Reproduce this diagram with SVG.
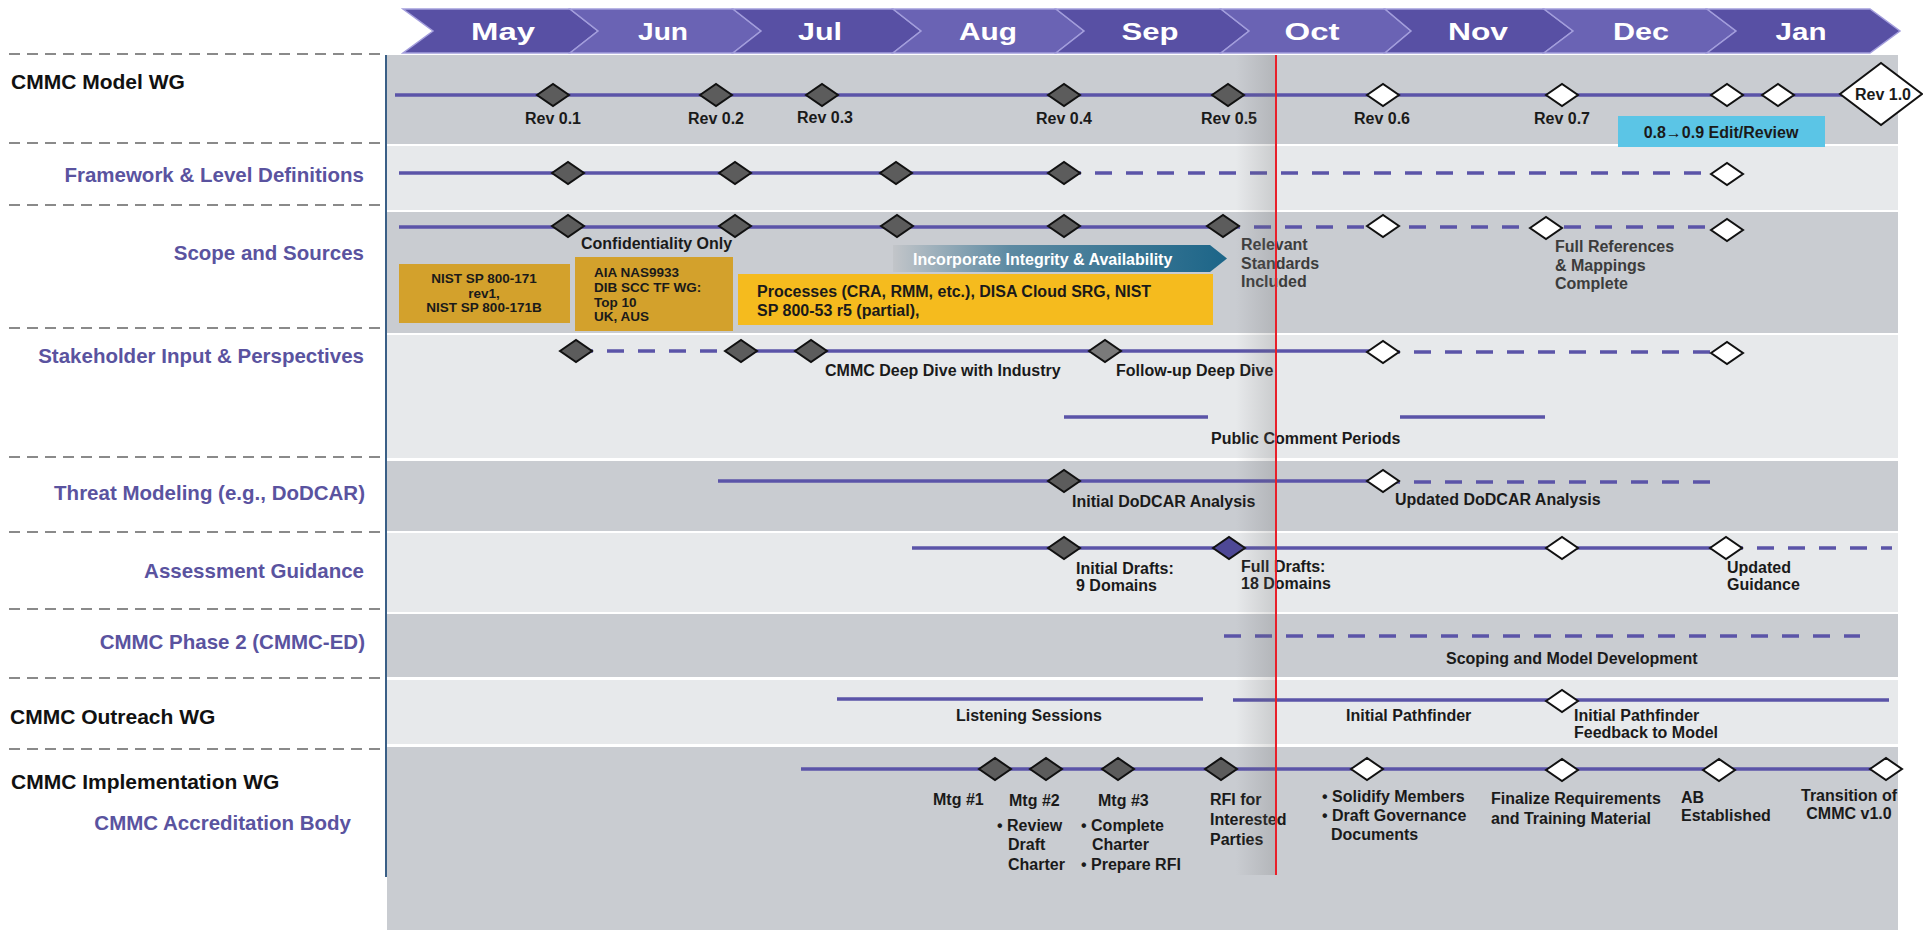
<svg xmlns="http://www.w3.org/2000/svg" xmlns:xlink="http://www.w3.org/1999/xlink" width="1923" height="930" viewBox="0 0 1923 930">
<defs>
<style>
.dk{fill:#c9ccd1}.lt{fill:#e7e9eb}
.sep{stroke:#8a8a8a;stroke-width:2;stroke-dasharray:11 7;fill:none}
.tl{stroke:#5b54a8;stroke-width:3.5;fill:none}
.td{stroke:#5b54a8;stroke-width:3.5;fill:none;stroke-dasharray:17 14}
.md{fill:#5c5c5c;stroke:#111;stroke-width:2}
.mw{fill:#fff;stroke:#111;stroke-width:2}
.mg{fill:#7a7a7a;stroke:#111;stroke-width:2}
.mp{fill:#4e4896;stroke:#111;stroke-width:2}
.chA{fill:#5850a4;stroke:#a39edc;stroke-width:1.5}
.chB{fill:#6a63b4;stroke:#a39edc;stroke-width:1.5}
.mon{font-family:"Liberation Sans",Arial,sans-serif;font-weight:bold;font-size:23px;fill:#fff;text-anchor:middle}
.lb{font-family:"Liberation Sans",Arial,sans-serif;font-weight:bold;font-size:21px;fill:#111}
.lp{font-family:"Liberation Sans",Arial,sans-serif;font-weight:bold;font-size:20.5px;fill:#5a539f;text-anchor:end}
.t{font-family:"Liberation Sans",Arial,sans-serif;font-weight:bold;font-size:16px;fill:#1a1a1a}
.tc{text-anchor:middle}
.tg{fill:#3c3c3c}
.tw{fill:#fff}
.bx{font-family:"Liberation Sans",Arial,sans-serif;font-weight:bold;font-size:13.5px;fill:#1a1a1a}
</style>
<path id="dm" d="M-16,0 L0,-11 L16,0 L0,11Z"/>
<linearGradient id="gInt" x1="0" x2="1" y1="0" y2="0">
<stop offset="0" stop-color="#c2c5c9"/>
<stop offset="0.35" stop-color="#5d8aa2"/>
<stop offset="1" stop-color="#1c6588"/>
</linearGradient>
<linearGradient id="gSh" x1="0" x2="1" y1="0" y2="0">
<stop offset="0" stop-color="#6e6e6e" stop-opacity="0"/>
<stop offset="1" stop-color="#6e6e6e" stop-opacity="0.24"/>
</linearGradient>
</defs>

<rect width="1923" height="930" fill="#fff"/>

<g id="bands">
<rect class="dk" x="387" y="55" width="1511" height="89"/>
<rect class="lt" x="387" y="146" width="1511" height="64"/>
<rect class="dk" x="387" y="212" width="1511" height="121"/>
<rect class="lt" x="387" y="335" width="1511" height="123"/>
<rect class="dk" x="387" y="461" width="1511" height="70"/>
<rect class="lt" x="387" y="533" width="1511" height="79"/>
<rect class="dk" x="387" y="614" width="1511" height="63"/>
<rect class="lt" x="387" y="680" width="1511" height="64"/>
<rect class="dk" x="387" y="747" width="1511" height="183"/>
</g>

<g id="header">
<polygon class="chA" points="403,9 570,9 598,31 570,53 403,53 433,31"/>
<polygon class="chB" points="570,9 733,9 761,31 733,53 570,53 598,31"/>
<polygon class="chA" points="733,9 893,9 921,31 893,53 733,53 761,31"/>
<polygon class="chB" points="893,9 1056,9 1084,31 1056,53 893,53 921,31"/>
<polygon class="chA" points="1056,9 1221,9 1249,31 1221,53 1056,53 1084,31"/>
<polygon class="chB" points="1221,9 1385,9 1411,31 1385,53 1221,53 1249,31"/>
<polygon class="chA" points="1385,9 1544,9 1573,31 1544,53 1385,53 1411,31"/>
<polygon class="chB" points="1544,9 1707,9 1736,31 1707,53 1544,53 1573,31"/>
<polygon class="chA" points="1707,9 1870,9 1900,31 1870,53 1707,53 1736,31"/>
<text class="mon" x="503" y="40" textLength="64" lengthAdjust="spacingAndGlyphs">May</text>
<text class="mon" x="663" y="40" textLength="50" lengthAdjust="spacingAndGlyphs">Jun</text>
<text class="mon" x="820" y="40" textLength="44" lengthAdjust="spacingAndGlyphs">Jul</text>
<text class="mon" x="988" y="40" textLength="58" lengthAdjust="spacingAndGlyphs">Aug</text>
<text class="mon" x="1150" y="40" textLength="57" lengthAdjust="spacingAndGlyphs">Sep</text>
<text class="mon" x="1312" y="40" textLength="55" lengthAdjust="spacingAndGlyphs">Oct</text>
<text class="mon" x="1478" y="40" textLength="60" lengthAdjust="spacingAndGlyphs">Nov</text>
<text class="mon" x="1641" y="40" textLength="56" lengthAdjust="spacingAndGlyphs">Dec</text>
<text class="mon" x="1801" y="40" textLength="51" lengthAdjust="spacingAndGlyphs">Jan</text>
</g>

<g id="label-column">
<line x1="386" y1="55" x2="386" y2="877" stroke="#3a5f86" stroke-width="2"/>
<path class="sep" d="M9,54H384M9,143H384M9,205H384M9,328H384M9,457H384M9,532H384M9,609H384M9,678H384M9,749H384"/>
</g>

<g id="connectors">
<path class="tl" d="M395,95H1842"/>
<path class="tl" d="M399,173H1064"/><path class="td" d="M1064,173H1727"/>
<path class="tl" d="M399,227H1223"/><path class="td" d="M1223,227H1727"/>
<path class="td" d="M576,351H741"/><path class="tl" d="M741,351H1383"/><path class="td" d="M1383,352H1727"/>
<path class="tl" d="M1064,417H1208M1400,417H1545"/>
<path class="tl" d="M718,481H1383"/><path class="td" d="M1383,482H1722"/>
<path class="tl" d="M912,548H1726"/><path class="td" d="M1726,548H1892"/>
<path class="td" d="M1224,636H1860"/>
<path class="tl" d="M837,699H1203M1233,700H1889"/>
<path class="tl" d="M801,769H1886"/>
</g>

<g id="row-model-wg">
<text class="lb" x="11" y="89">CMMC Model WG</text>
<use href="#dm" class="md" x="553" y="95"/>
<use href="#dm" class="md" x="716" y="95"/>
<use href="#dm" class="md" x="822" y="95"/>
<use href="#dm" class="md" x="1064" y="95"/>
<use href="#dm" class="md" x="1228" y="95"/>
<use href="#dm" class="mw" x="1383" y="95"/>
<use href="#dm" class="mw" x="1562" y="95"/>
<use href="#dm" class="mw" x="1727" y="95"/>
<use href="#dm" class="mw" x="1778" y="95"/>
<path class="mw" d="M1840,94 L1881,63 L1922,94 L1881,125Z"/>
<text class="t tc" x="1883" y="100">Rev 1.0</text>
<text class="t tc" x="553" y="124">Rev 0.1</text>
<text class="t tc" x="716" y="124">Rev 0.2</text>
<text class="t tc" x="825" y="123">Rev 0.3</text>
<text class="t tc" x="1064" y="124">Rev 0.4</text>
<text class="t tc" x="1229" y="124">Rev 0.5</text>
<text class="t tc" x="1382" y="124">Rev 0.6</text>
<text class="t tc" x="1562" y="124">Rev 0.7</text>
<rect x="1618" y="116" width="207" height="31" fill="#5bc5e6"/>
<text class="t tc" x="1721" y="138">0.8→0.9 Edit/Review</text>
</g>

<g id="row-framework">
<text class="lp" x="364" y="182">Framework &amp; Level Definitions</text>
<use href="#dm" class="md" x="568" y="173"/>
<use href="#dm" class="md" x="735" y="173"/>
<use href="#dm" class="md" x="896" y="173"/>
<use href="#dm" class="md" x="1064" y="173"/>
<use href="#dm" class="mw" x="1727" y="174"/>
</g>

<g id="row-scope">
<text class="lp" x="364" y="260">Scope and Sources</text>
<use href="#dm" class="md" x="568" y="226"/>
<use href="#dm" class="md" x="735" y="226"/>
<use href="#dm" class="md" x="897" y="226"/>
<use href="#dm" class="md" x="1064" y="226"/>
<use href="#dm" class="md" x="1223" y="226"/>
<use href="#dm" class="mw" x="1383" y="226"/>
<use href="#dm" class="mw" x="1546" y="228"/>
<use href="#dm" class="mw" x="1727" y="230"/>
<text class="t" x="581" y="249">Confidentiality Only</text>
<rect x="399" y="264" width="171" height="59" fill="#d3a12c"/>
<text class="bx tc" x="484" y="283">NIST SP 800-171</text>
<text class="bx tc" x="484" y="298">rev1,</text>
<text class="bx tc" x="484" y="312">NIST SP 800-171B</text>
<rect x="575" y="257" width="158" height="74" fill="#d3a12c"/>
<text class="bx" x="594" y="277">AIA NAS9933</text>
<text class="bx" x="594" y="292">DIB SCC TF WG:</text>
<text class="bx" x="594" y="307">Top 10</text>
<text class="bx" x="594" y="321">UK, AUS</text>
<polygon points="893,245 1210,245 1227,258.5 1210,272 893,272" fill="url(#gInt)"/>
<text class="t tw" x="913" y="265">Incorporate Integrity &amp; Availability</text>
<rect x="738" y="274" width="475" height="51" fill="#f5bb1e"/>
<text class="t" x="757" y="297">Processes (CRA, RMM, etc.), DISA Cloud SRG, NIST</text>
<text class="t" x="757" y="316">SP 800-53 r5 (partial),</text>
<text class="t tg" x="1241" y="250">Relevant</text>
<text class="t tg" x="1241" y="269">Standards</text>
<text class="t tg" x="1241" y="287">Included</text>
<text class="t tg" x="1555" y="252">Full References</text>
<text class="t tg" x="1555" y="271">&amp; Mappings</text>
<text class="t tg" x="1555" y="289">Complete</text>
</g>

<g id="row-stakeholder">
<text class="lp" x="364" y="363">Stakeholder Input &amp; Perspectives</text>
<use href="#dm" class="md" x="576" y="351"/>
<use href="#dm" class="md" x="741" y="351"/>
<use href="#dm" class="md" x="811" y="351"/>
<use href="#dm" class="mg" x="1105" y="351"/>
<use href="#dm" class="mw" x="1383" y="352"/>
<use href="#dm" class="mw" x="1727" y="353"/>
<text class="t" x="825" y="376">CMMC Deep Dive with Industry</text>
<text class="t" x="1116" y="376">Follow-up Deep Dive</text>
<text class="t" x="1211" y="444">Public Comment Periods</text>
</g>

<g id="row-threat">
<text class="lp" x="365" y="500">Threat Modeling (e.g., DoDCAR)</text>
<use href="#dm" class="md" x="1064" y="481"/>
<use href="#dm" class="mw" x="1383" y="481"/>
<text class="t" x="1072" y="507">Initial DoDCAR Analysis</text>
<text class="t" x="1395" y="505">Updated DoDCAR Analysis</text>
</g>

<g id="row-assessment">
<text class="lp" x="364" y="578">Assessment Guidance</text>
<use href="#dm" class="md" x="1064" y="548"/>
<use href="#dm" class="mp" x="1229" y="548"/>
<use href="#dm" class="mw" x="1562" y="548"/>
<use href="#dm" class="mw" x="1726" y="548"/>
<text class="t" x="1076" y="574">Initial Drafts:</text>
<text class="t" x="1076" y="591">9 Domains</text>
<text class="t" x="1241" y="572">Full Drafts:</text>
<text class="t" x="1241" y="589">18 Domains</text>
<text class="t" x="1727" y="573">Updated</text>
<text class="t" x="1727" y="590">Guidance</text>
</g>

<g id="row-phase2">
<text class="lp" x="365" y="649">CMMC Phase 2 (CMMC-ED)</text>
<text class="t" x="1446" y="664">Scoping and Model Development</text>
</g>

<g id="row-outreach">
<text class="lb" x="10" y="724">CMMC Outreach WG</text>
<use href="#dm" class="mw" x="1562" y="701"/>
<text class="t" x="956" y="721">Listening Sessions</text>
<text class="t" x="1346" y="721">Initial Pathfinder</text>
<text class="t" x="1574" y="721">Initial Pathfinder</text>
<text class="t" x="1574" y="738">Feedback to Model</text>
</g>

<g id="row-implementation">
<text class="lb" x="11" y="789">CMMC Implementation WG</text>
<text class="lp" x="351" y="830">CMMC Accreditation Body</text>
<use href="#dm" class="md" x="995" y="769"/>
<use href="#dm" class="md" x="1046" y="769"/>
<use href="#dm" class="md" x="1118" y="769"/>
<use href="#dm" class="md" x="1221" y="769"/>
<use href="#dm" class="mw" x="1367" y="769"/>
<use href="#dm" class="mw" x="1562" y="770"/>
<use href="#dm" class="mw" x="1719" y="770"/>
<use href="#dm" class="mw" x="1886" y="769"/>
<text class="t" x="933" y="805">Mtg #1</text>
<text class="t" x="1009" y="806">Mtg #2</text>
<text class="t" x="1098" y="806">Mtg #3</text>
<text class="t" x="997" y="831">• Review</text>
<text class="t" x="1008" y="850">Draft</text>
<text class="t" x="1008" y="870">Charter</text>
<text class="t" x="1081" y="831">• Complete</text>
<text class="t" x="1092" y="850">Charter</text>
<text class="t" x="1081" y="870">• Prepare RFI</text>
<text class="t" x="1210" y="805">RFI for</text>
<text class="t" x="1210" y="825">Interested</text>
<text class="t" x="1210" y="845">Parties</text>
<text class="t" x="1322" y="802">• Solidify Members</text>
<text class="t" x="1322" y="821">• Draft Governance</text>
<text class="t" x="1331" y="840">Documents</text>
<text class="t" x="1491" y="804">Finalize Requirements</text>
<text class="t" x="1491" y="824">and Training Material</text>
<text class="t" x="1681" y="803">AB</text>
<text class="t" x="1681" y="821">Established</text>
<text class="t tc" x="1849" y="801">Transition of</text>
<text class="t tc" x="1849" y="819">CMMC v1.0</text>
</g>

<g id="today-marker">
<rect x="1236" y="55" width="40" height="820" fill="url(#gSh)"/>
<line x1="1276" y1="55" x2="1276" y2="875" stroke="#e8202a" stroke-width="2"/>
</g>
</svg>
